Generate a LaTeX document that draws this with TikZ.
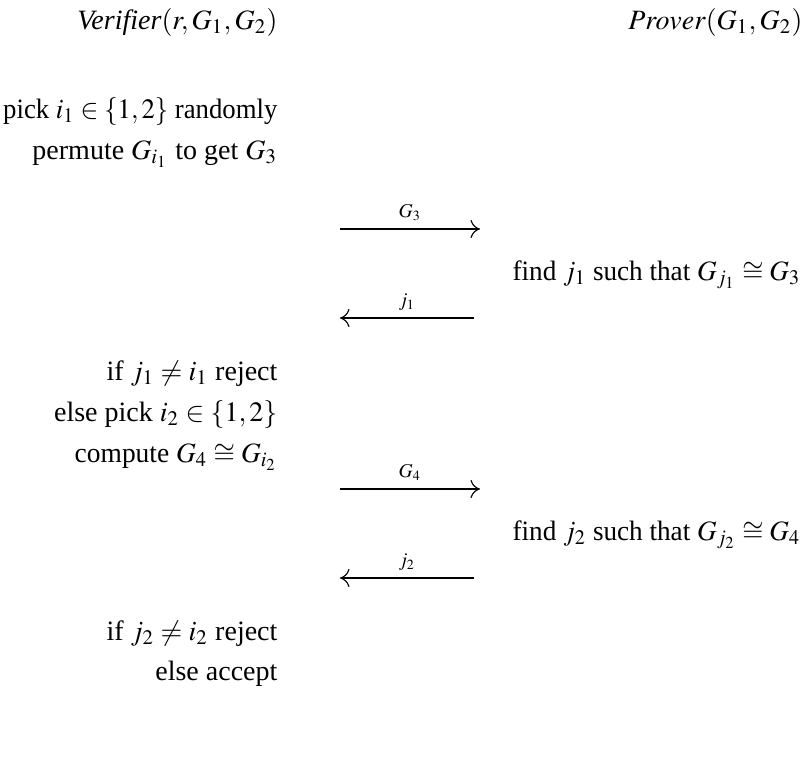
\documentclass[tikz,border=0pt]{standalone}
\usepackage{mathptmx}
\usepackage[no-math]{fontspec}
\setmainfont{Liberation Serif}
\usetikzlibrary{arrows.meta}
\begin{document}
\begin{tikzpicture}[x=0.357pt,y=-0.357pt,
  lt/.style={anchor=base east,inner sep=0pt,font=\fontsize{10}{12}\selectfont},
  msg/.style={line width=0.4pt,-{To[length=3.4pt,width=6.5pt]}},
  lab/.style={font=\scriptsize,inner sep=0pt,anchor=base}]
\useasboundingbox (0,0) rectangle (803,766);
% headers
\node[lt] (hv) at (278,29) {\textit{Verifier}$(r,G_1,G_2)$};
\node[lt] (hp) at (803,29) {$Prover(G_1,G_2)$};
% verifier column
\node[lt,xscale=0.955] (v1) at (278,118) {pick $i_1\in\{1,2\}$ randomly};
\node[lt] (v2) at (278,159) {permute $G_{i_1}$ to get $G_3$};
\node[lt] (v3) at (278,380) {if $j_1\neq i_1$ reject};
\node[lt] (v4) at (278,421) {else pick $i_2\in\{1,2\}$};
\node[lt,xscale=0.98] (v5) at (278,462) {compute $G_4\cong G_{i_2}$};
\node[lt] (v6) at (278,640) {if $j_2\neq i_2$ reject};
\node[lt] (v7) at (278,680) {else accept};
% prover column
\node[lt,xscale=0.97] (p1) at (801,280) {find $j_1$ such that $G_{j_1}\cong G_3$};
\node[lt,xscale=0.97] (p2) at (801,540) {find $j_2$ such that $G_{j_2}\cong G_4$};
% messages
\coordinate (a1s) at (340,229); \coordinate (a1e) at (480,229);
\coordinate (a2s) at (474,318); \coordinate (a2e) at (340,318);
\coordinate (a3s) at (340,489); \coordinate (a3e) at (480,489);
\coordinate (a4s) at (474,578); \coordinate (a4e) at (340,578);
\draw[msg] (a1s) -- node[lab,yshift=4pt] (l1) {$G_3$} (a1e);
\draw[msg] (a2s) -- node[lab,yshift=4pt] (l2) {$j_1$} (a2e);
\draw[msg] (a3s) -- node[lab,yshift=4pt] (l3) {$G_4$} (a3e);
\draw[msg] (a4s) -- node[lab,yshift=4pt] (l4) {$j_2$} (a4e);
\end{tikzpicture}
\end{document}
